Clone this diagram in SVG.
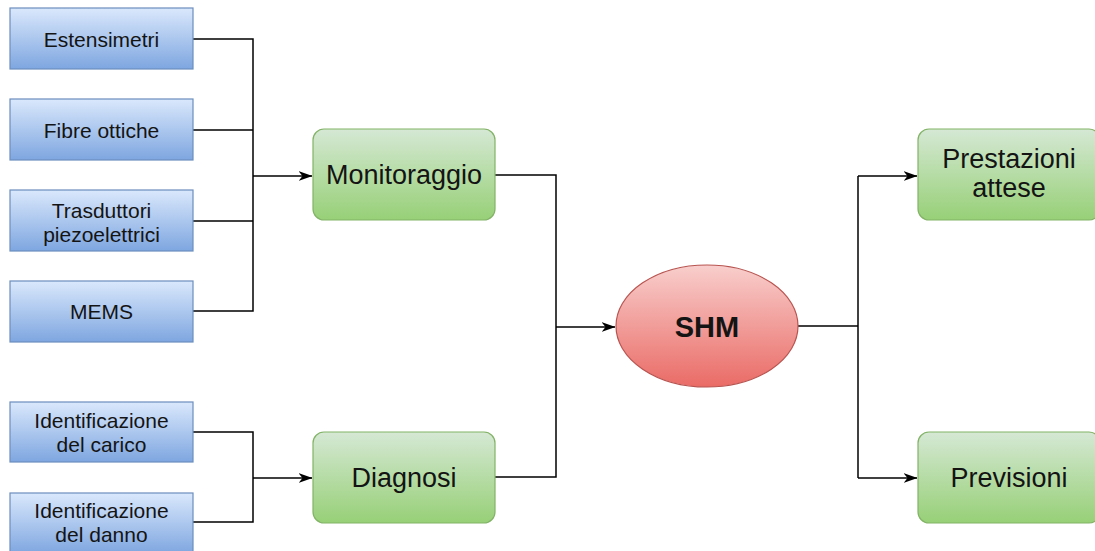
<svg xmlns="http://www.w3.org/2000/svg" width="1095" height="551" viewBox="0 0 1095 551">
<defs>
<linearGradient id="gBlue" x1="0" y1="0" x2="0" y2="1"><stop offset="0" stop-color="#dae8fc"/><stop offset="1" stop-color="#7ea6e0"/></linearGradient>
<linearGradient id="gGreen" x1="0" y1="0" x2="0" y2="1"><stop offset="0" stop-color="#d5e8d4"/><stop offset="1" stop-color="#97d077"/></linearGradient>
<linearGradient id="gRed" x1="0" y1="0" x2="0" y2="1"><stop offset="0" stop-color="#f8cecc"/><stop offset="1" stop-color="#ea6b66"/></linearGradient>
<marker id="arr" viewBox="0 0 14 12" refX="13.5" refY="6" markerWidth="14" markerHeight="12" markerUnits="userSpaceOnUse" orient="auto">
<path d="M0,1 L14,6 L0,11 L4,6 Z" fill="#000"/>
</marker>
<style>
.blue{fill:url(#gBlue);stroke:#6c8ebf;stroke-width:1.2}
.green{fill:url(#gGreen);stroke:#82b366;stroke-width:1.2}
.red{fill:url(#gRed);stroke:#b85450;stroke-width:1.2}
.t{font-family:"Liberation Sans",Arial,sans-serif;fill:#141414;text-anchor:middle}
.s{font-size:21px}
.l{font-size:27px}
.b{font-size:29px;font-weight:bold}
.c{fill:none;stroke:#000;stroke-width:1.5}
</style>
</defs>
<rect width="1095" height="551" fill="#fff"/>
<g id="connectors">
<path class="c" d="M193,39 H253 V311 H193"/>
<path class="c" d="M193,130 H253"/>
<path class="c" d="M193,221 H253"/>
<path class="c" d="M253,176 H312" marker-end="url(#arr)"/>
<path class="c" d="M193,432 H253 V522 H193"/>
<path class="c" d="M253,478 H312" marker-end="url(#arr)"/>
<path class="c" d="M495,175 H556 V477 H495"/>
<path class="c" d="M556,327 H615" marker-end="url(#arr)"/>
<path class="c" d="M798,326 H858"/>
<path class="c" d="M858,176 V478"/>
<path class="c" d="M858,176 H917" marker-end="url(#arr)"/>
<path class="c" d="M858,478 H917" marker-end="url(#arr)"/>
</g>
<g id="n-estensimetri"><rect class="blue" x="10" y="8" width="183" height="61"/><text class="t s" x="101.5" y="47">Estensimetri</text></g>
<g id="n-fibre"><rect class="blue" x="10" y="99" width="183" height="61"/><text class="t s" x="101.5" y="138">Fibre ottiche</text></g>
<g id="n-trasduttori"><rect class="blue" x="10" y="190" width="183" height="61"/><text class="t s" x="101.5" y="218">Trasduttori</text><text class="t s" x="101.5" y="242">piezoelettrici</text></g>
<g id="n-mems"><rect class="blue" x="10" y="281" width="183" height="61"/><text class="t s" x="101.5" y="319">MEMS</text></g>
<g id="n-carico"><rect class="blue" x="10" y="402" width="183" height="60"/><text class="t s" x="101.5" y="428">Identificazione</text><text class="t s" x="101.5" y="452">del carico</text></g>
<g id="n-danno"><rect class="blue" x="10" y="493" width="183" height="61"/><text class="t s" x="101.5" y="518">Identificazione</text><text class="t s" x="101.5" y="542">del danno</text></g>
<g id="n-monitoraggio"><rect class="green" x="313" y="129" width="182" height="91" rx="11"/><text class="t l" x="404" y="184">Monitoraggio</text></g>
<g id="n-diagnosi"><rect class="green" x="313" y="432" width="182" height="91" rx="11"/><text class="t l" x="404" y="487">Diagnosi</text></g>
<g id="n-shm"><ellipse class="red" cx="707" cy="326" rx="91" ry="61"/><text class="t b" x="707" y="337">SHM</text></g>
<g id="n-prestazioni"><rect class="green" x="918" y="129" width="182" height="91" rx="11"/><text class="t l" x="1009" y="168">Prestazioni</text><text class="t l" x="1009" y="197">attese</text></g>
<g id="n-previsioni"><rect class="green" x="918" y="432" width="182" height="91" rx="11"/><text class="t l" x="1009" y="487">Previsioni</text></g>
</svg>
